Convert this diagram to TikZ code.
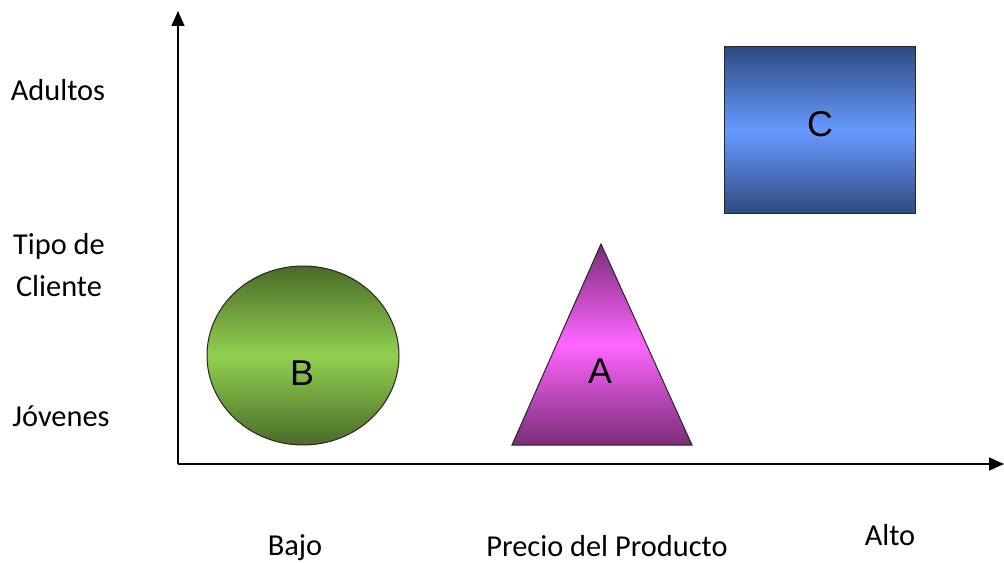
\documentclass[tikz,border=0pt]{standalone}
\usepackage{fontspec}
\setmainfont{Carlito}
\newfontfamily\letterfont{Liberation Sans}
\usetikzlibrary{arrows.meta,shapes.geometric}

\definecolor{greendark}{HTML}{4A6B28}
\definecolor{greenlight}{HTML}{92D050}
\definecolor{pinkdark}{HTML}{7A2C78}
\definecolor{pinklight}{HTML}{FF66FF}
\definecolor{bluedark}{HTML}{2F4A80}
\definecolor{bluelight}{HTML}{6699FF}

\begin{document}
\begin{tikzpicture}[x=1bp,y=-1bp,
  axis/.style={line width=1.6bp,-{Triangle[length=15bp,width=13bp]}},
  lbl/.style={font=\fontsize{30.5}{42}\selectfont,align=center,inner sep=0pt},
  letter/.style={font=\letterfont\fontsize{36}{36}\selectfont,inner sep=0pt},
  shapeline/.style={draw=black!85,line width=1bp}]
\useasboundingbox (0,0) rectangle (1004,563);
% axes
\coordinate (o) at (178,464);
\coordinate (ytop) at (178,11);
\coordinate (xend) at (1004,464);
\draw[axis] (o) -- (ytop);
\draw[axis] (o) -- (xend);
% labels
\node[lbl] (adultos) at (58,90) {Adultos};
\node[lbl] (tipo) at (59,265) {Tipo de\\Cliente};
\node[lbl] (jovenes) at (61,416) {Jóvenes};
\node[lbl] (bajo) at (295,548) {Bajo};
\node[lbl] (precio) at (607,546) {Precio del Producto};
\node[lbl] (alto) at (890,535) {Alto};
% B
\path[shapeline,top color=greendark,bottom color=greendark,middle color=greenlight]
  (303,355.5) ellipse [x radius=96,y radius=89.5];
\node[letter] (b) at (302,373) {B};
% A
\path[shapeline,top color=pinkdark,bottom color=pinkdark,middle color=pinklight]
  (601,244) -- (692,445) -- (512,445) -- cycle;
\node[letter] (a) at (600,371) {A};
% C
\path[shapeline,top color=bluedark,bottom color=bluedark,middle color=bluelight]
  (724,47) rectangle (915,214);
\node[letter] (c) at (820,124) {C};
\end{tikzpicture}
\end{document}
